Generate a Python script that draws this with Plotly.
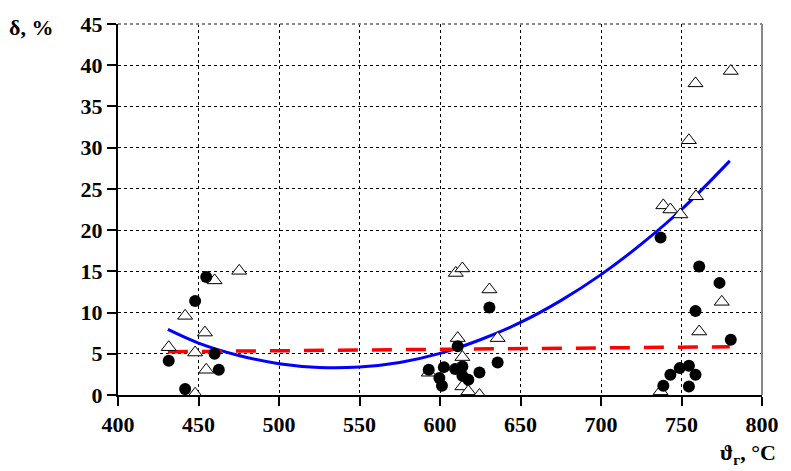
import plotly.graph_objects as go

# Filled circles (series 1)
dot_x = [431.5, 441.7, 447.9, 454.8, 460.0, 462.6,
         593.0, 599.6, 601.2, 602.4, 609.4, 611.0, 613.9, 613.9, 617.6, 624.5, 630.7, 635.8,
         737.0, 738.7, 743.1, 748.9, 754.6, 754.6, 758.7, 758.7, 761.0, 773.6, 780.6]
dot_y = [4.15, 0.72, 11.4, 14.3, 5.0, 3.06,
         3.06, 2.05, 1.12, 3.38, 3.14, 5.9, 3.46, 2.33, 1.85, 2.73, 10.6, 3.94,
         19.1, 1.12, 2.45, 3.26, 3.54, 1.04, 2.45, 10.2, 15.6, 13.6, 6.7]

# Open triangles (series 2)
tri_x = [431.5, 441.7, 447.9, 447.9, 454.0, 454.8, 460.0, 475.3,
         593.0, 609.8, 611.0, 613.9, 613.9, 613.9, 617.6, 624.5, 630.7, 635.8,
         737.0, 738.7, 743.1, 749.3, 754.6, 758.7, 759.0, 761.0, 775.0, 780.6]
tri_y = [5.8, 9.6, 5.15, 0.15, 7.57, 3.06, 13.9, 15.06,
         2.7, 14.8, 6.9, 15.35, 4.6, 1.04, 0.44, 0.0, 12.8, 6.9,
         0.44, 23.0, 22.5, 21.9, 30.9, 37.8, 24.1, 7.7, 11.3, 39.3]

# Trend curve (blue)
trend_x = [431, 450, 475, 500, 525, 550, 575, 600, 625, 650, 675, 700, 725, 750, 780]
trend_y = [7.95, 6.3, 4.8, 3.8, 3.35, 3.4, 3.95, 5.05, 6.7, 8.8, 11.45, 14.6, 18.3, 22.5, 28.4]

# Linear trend (red dashed)
lin_x = [431, 780]
lin_y = [5.25, 5.85]

x_ticks = [400, 450, 500, 550, 600, 650, 700, 750, 800]
y_ticks = [0, 5, 10, 15, 20, 25, 30, 35, 40, 45]

FONT = "Liberation Serif, Times New Roman, serif"
FS = 22

fig = go.Figure()
fig.add_trace(go.Scatter(x=trend_x, y=trend_y, mode="lines", line=dict(color="#0000ff", width=3, shape="spline"), showlegend=False))
fig.add_trace(go.Scatter(x=lin_x, y=lin_y, mode="lines", line=dict(color="#ff0000", width=3.5, dash="20px,14px"), showlegend=False))
fig.add_trace(go.Scatter(x=tri_x, y=tri_y, mode="markers",
                         marker=dict(symbol="triangle-up", size=13, color="white", line=dict(color="black", width=1)),
                         showlegend=False))
fig.add_trace(go.Scatter(x=dot_x, y=dot_y, mode="markers",
                         marker=dict(symbol="circle", size=12, color="black"),
                         showlegend=False))

axis_common = dict(showgrid=True, gridcolor="black", griddash="dot", gridwidth=1,
                   showline=True, linecolor="black", linewidth=2,
                   ticks="outside", ticklen=9, tickwidth=2, tickcolor="black",
                   zeroline=False, tickfont=dict(family=FONT, size=FS, color="black"))

fig.update_layout(
    width=791, height=471,
    margin=dict(l=118, r=21, t=23, b=76),
    paper_bgcolor="white", plot_bgcolor="white",
    font=dict(family=FONT, size=FS, color="black"),
    xaxis=dict(range=[400, 800], tickvals=x_ticks, ticktext=["<b>%d</b>" % v for v in x_ticks], **axis_common),
    yaxis=dict(range=[0, 45], tickvals=y_ticks, ticktext=["<b>%d</b>" % v for v in y_ticks], **axis_common),
)

# gray top and right borders
fig.add_shape(type="line", xref="paper", yref="paper", x0=0, x1=1, y0=1, y1=1,
              line=dict(color="#888888", width=2, dash="dot"))
fig.add_shape(type="line", xref="paper", yref="paper", x0=1, x1=1, y0=0, y1=1,
              line=dict(color="#888888", width=2))

fig.add_annotation(text="<b>δ, %</b>", xref="paper", yref="paper", x=-0.172, y=0.99,
                   xanchor="left", yanchor="middle", showarrow=False,
                   font=dict(family=FONT, size=FS, color="black"))
fig.add_annotation(text="<b>ϑ<sub>г</sub>, °C</b>", xref="paper", yref="paper", x=1.025, y=-0.158,
                   xanchor="right", yanchor="middle", showarrow=False,
                   font=dict(family=FONT, size=FS, color="black"))

fig.write_html("out.html")
